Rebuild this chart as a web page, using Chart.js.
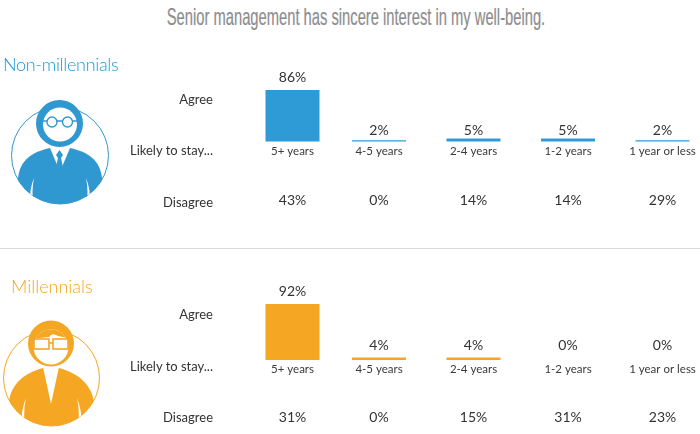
<!DOCTYPE html>
<html>
<head>
<meta charset="utf-8">
<title>Senior management has sincere interest in my well-being.</title>
<script src="https://cdn.jsdelivr.net/npm/chart.js@4/dist/chart.umd.min.js"></script>
<style>
    html, body { margin: 0; padding: 0; background: #fff; overflow: hidden; }
    #page { position: relative; width: 700px; height: 434px; overflow: hidden; font-family: Lato, sans-serif; }
    #page canvas, #page svg { position: absolute; left: 0; }
    .texto { position: absolute; white-space: nowrap; line-height: 1; }
    .titulo { left: 355.5px; top: 3px; font: 24px "Liberation Sans", sans-serif; color: #8c8d8f; -webkit-text-stroke: 0.2px #8c8d8f; transform: translateX(-50%) scaleX(0.614); }
    .grupo { font-size: 18px; font-weight: 300; }
    .fila { right: 487px; font-size: 13px; color: #333; transform: translateY(-50%); }
    .separador { position: absolute; left: 0; top: 248px; width: 700px; height: 1px; background: #d9d9d9; }
</style>
</head>
<body>
<div id="page">
    <svg width="700" height="434" viewBox="0 0 700 434" style="top:0">
        <defs>
            <clipPath id="circuloAzul"><circle cx="60" cy="155.5" r="48.5"/></clipPath>
            <clipPath id="circuloNaranja"><circle cx="51.5" cy="378" r="48"/></clipPath>
            <clipPath id="caraNaranja"><circle cx="51" cy="347" r="17.5"/></clipPath>
        </defs>
        <!-- icono azul -->
        <circle cx="60" cy="155.5" r="48.5" fill="#fff" stroke="#3098d1" stroke-width="1"/>
        <g clip-path="url(#circuloAzul)">
            <path d="M18 206 L18 178 C20 160 32 152 50 148 L70 148 C88 152 100 160 102 178 L102 206 Z" fill="#3098d1"/>
            <path d="M50 148 L70 148 L62 167 L58 167 Z" fill="#fff"/>
            <path d="M59.5 150 L63 155 L61 158 L63 167 L59.5 171 L56 167 L58 158 L56 155 Z" fill="#3098d1"/>
            <path d="M34 178 Q31 192 34 206 L30 206 Q29 190 34 178 Z M86 178 Q89 192 86 206 L90 206 Q91 190 86 178 Z" fill="#fff"/>
        </g>
        <circle cx="59.5" cy="123.5" r="23.5" fill="#3098d1"/>
        <circle cx="60" cy="124.5" r="17" fill="#fff"/>
        <g fill="#fff" stroke="#3098d1" stroke-width="1.4">
            <path d="M43 121 L77 121" fill="none"/>
            <circle cx="52" cy="122" r="5"/>
            <circle cx="67.5" cy="122" r="5"/>
        </g>
        <!-- icono naranja -->
        <circle cx="51.5" cy="378" r="48" fill="#fff" stroke="#f5a623" stroke-width="1"/>
        <g clip-path="url(#circuloNaranja)">
            <path d="M9 428 L9 402 C11 384 24 373 43 368 L59 368 C78 373 91 384 94 402 L94 428 Z" fill="#f5a623"/>
            <path d="M43 367 L59 367 L51 404 Z" fill="#fff"/>
            <path d="M26 398 Q23 410 25 428 L21 428 Q21 410 26 398 Z M77 398 Q80 410 78 428 L82 428 Q82 410 77 398 Z" fill="#fff"/>
        </g>
        <circle cx="51" cy="343.5" r="23" fill="#f5a623"/>
        <circle cx="51" cy="347" r="17.5" fill="#fff"/>
        <path d="M30 325 L72 325 L72 339 L58 336 Q52 332 49 337 L30 339 Z" fill="#f5a623" clip-path="url(#caraNaranja)"/>
        <g fill="#fff" stroke="#f5a623" stroke-width="1.6">
            <rect x="34" y="339" width="15" height="10"/>
            <rect x="53" y="339" width="15" height="10"/>
            <path d="M49 343 L53 343" fill="none"/>
        </g>
    </svg>
    <canvas id="graficoNoMillennials" style="top:60px"></canvas>
    <canvas id="graficoMillennials" style="top:280px"></canvas>

    <div class="texto titulo">Senior management has sincere interest in my well-being.</div>
    <div class="texto grupo" style="left:3px;top:55px;color:#1b9ad6;letter-spacing:-0.3px">Non-millennials</div>
    <div class="texto grupo" style="left:11px;top:277px;color:#f5a623">Millennials</div>
    <div class="texto fila" style="top:99px">Agree</div>
    <div class="texto fila" style="top:150px">Likely to stay...</div>
    <div class="texto fila" style="top:202px">Disagree</div>
    <div class="texto fila" style="top:314px">Agree</div>
    <div class="texto fila" style="top:366px">Likely to stay...</div>
    <div class="texto fila" style="top:417px">Disagree</div>
    <div class="separador"></div>
</div>

<script>
const categorias = ['5+ years', '4-5 years', '2-4 years', '1-2 years', '1 year or less'];
const agreeNoMillennials = [86, 2, 5, 5, 2];
const disagreeNoMillennials = [43, 0, 14, 14, 29];
const agreeMillennials = [92, 4, 4, 0, 0];
const disagreeMillennials = [31, 0, 15, 31, 23];

// La primera columna va algo mas cerca de la segunda que las demas entre si
const desplazamientoPrimera = 8;

class EscalaColumnas extends Chart.CategoryScale {
    getPixelForValue(value, index) {
        const pixel = super.getPixelForValue(value, index);
        return value === 0 ? pixel + desplazamientoPrimera : pixel;
    }
}
EscalaColumnas.id = 'columnas';
EscalaColumnas.defaults = Chart.CategoryScale.defaults;
Chart.register(EscalaColumnas);

const etiquetasPlugin = {
    id: 'etiquetasPorcentaje',
    afterDatasetsDraw(chart, args, opciones) {
        const ctx = chart.ctx;
        const base = chart.scales.y.getPixelForValue(0);
        ctx.save();
        ctx.font = '14px Lato, sans-serif';
        ctx.fillStyle = '#333';
        ctx.textAlign = 'center';
        ctx.textBaseline = 'middle';
        chart.getDatasetMeta(0).data.forEach((barra, i) => {
            // Las barras bajas comparten una misma fila de etiquetas
            const y = base - barra.y > 20 ? barra.y - 12 : base - opciones.alturaFila;
            ctx.fillText(chart.data.datasets[0].data[i] + '%', barra.x, y);
            ctx.fillText(opciones.disagree[i] + '%', barra.x, base + opciones.distanciaDisagree);
        });
        ctx.restore();
    }
};

function crearGrafico(id, agree, disagree, color, paddingTop, alturaEje, paddingTicks, alturaFila, distanciaDisagree) {
    const canvas = document.getElementById(id);
    return new Chart(canvas, {
        type: 'bar',
        data: {
            labels: categorias,
            datasets: [{
                data: agree,
                backgroundColor: color,
                barThickness: 54,
                inflateAmount: 0,
                clip: false
            }]
        },
        options: {
            responsive: false,
            animation: false,
            devicePixelRatio: 1,
            layout: { padding: { left: 284.5, right: 37.5, top: paddingTop, bottom: 0 } },
            plugins: {
                legend: { display: false },
                tooltip: { enabled: false },
                etiquetasPorcentaje: { disagree, alturaFila, distanciaDisagree }
            },
            scales: {
                x: {
                    type: 'columnas',
                    offset: false,
                    grid: { display: false, drawTicks: false, tickLength: 0 },
                    border: { display: false },
                    afterFit(escala) { escala.height = alturaEje; },
                    ticks: {
                        autoSkip: false,
                        maxRotation: 0,
                        padding: paddingTicks,
                        color: '#3a3a3a',
                        font: { family: 'Lato, sans-serif', size: 11.5 }
                    }
                },
                y: { display: false, min: 0, max: 100 }
            }
        },
        plugins: [etiquetasPlugin]
    });
}

function iniciar() {
    ['graficoNoMillennials', 'graficoMillennials'].forEach(id => {
        const canvas = document.getElementById(id);
        canvas.width = 700;
        canvas.height = 160;
        canvas.style.width = '700px';
        canvas.style.height = '160px';
    });
    crearGrafico('graficoNoMillennials', agreeNoMillennials, disagreeNoMillennials, '#2f9bd6', 21.5, 78.5, 3, 11.5, 59);
    crearGrafico('graficoMillennials', agreeMillennials, disagreeMillennials, '#f5a623', 19, 80, 2, 15, 57);
}

iniciar();
</script>
</body>
</html>
